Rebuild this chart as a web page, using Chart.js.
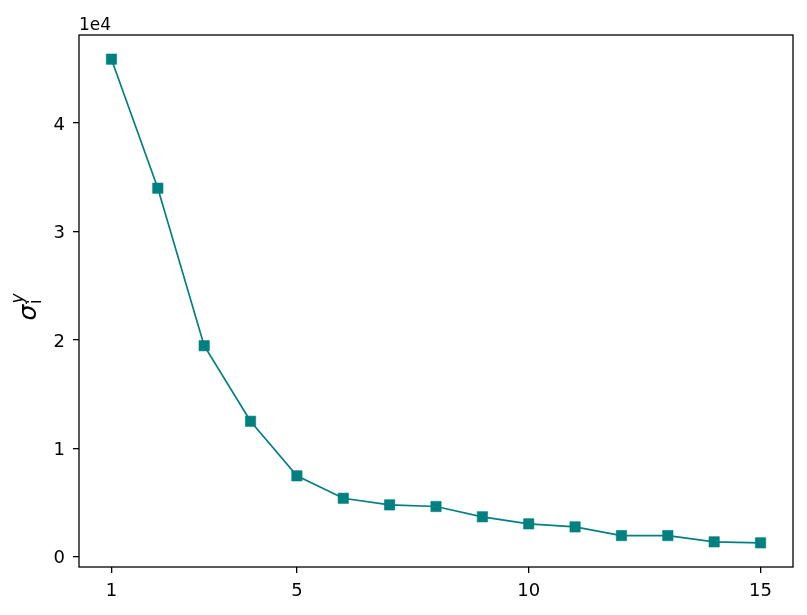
<!DOCTYPE html>
<html>
<head>
<meta charset="utf-8">
<script src="https://cdn.jsdelivr.net/npm/chart.js@4"></script>
<style>
html,body{margin:0;padding:0;background:#fff;}
#wrap{width:807px;height:615px;position:relative;}
</style>
</head>
<body>
<div id="wrap"><canvas id="c" width="807" height="615"></canvas></div>
<script>
const xValues = [1,2,3,4,5,6,7,8,9,10,11,12,13,14,15];
const yValues = [45900,34000,19470,12500,7470,5400,4790,4640,3690,3040,2760,1960,1960,1380,1290];
const xTicks = [1,5,10,15];
const yTicks = [0,10000,20000,30000,40000];
const yScaleExp = 4;
const offsetLabel = '1e4';

const color = '#008080';
const FONT = '"DejaVu Sans", sans-serif';

const frame = {
  id:'frame',
  afterDraw(chart){
    const {ctx, chartArea:a} = chart;
    ctx.save();
    ctx.strokeStyle = '#000';
    ctx.lineWidth = 1.3;
    ctx.strokeRect(a.left, a.top, a.right - a.left, a.bottom - a.top);
    ctx.fillStyle = '#000';
    ctx.font = '17px ' + FONT;
    ctx.textAlign = 'left';
    ctx.textBaseline = 'alphabetic';
    ctx.fillText(offsetLabel, a.left, a.top - 5);
    // y-axis title sigma_i^y
    const cy = (a.top + a.bottom) / 2 + 6;
    ctx.translate(36, cy);
    ctx.rotate(-Math.PI/2);
    ctx.font = 'italic 25px ' + FONT;
    const wS = ctx.measureText('σ').width;
    ctx.font = '17px ' + FONT;
    const wI = ctx.measureText('i').width;
    ctx.font = 'italic 17px ' + FONT;
    const wY = ctx.measureText('y').width;
    const total = wS + Math.max(wI, wY) + 1;
    let x0 = -total/2;
    ctx.font = 'italic 25px ' + FONT;
    ctx.fillText('σ', x0, 0);
    ctx.font = '17px ' + FONT;
    ctx.fillText('i', x0 + wS + 0.5, 5);
    ctx.font = 'italic 17px ' + FONT;
    ctx.fillText('y', x0 + wS + 1, -13);
    ctx.restore();
  }
};

new Chart(document.getElementById('c'), {
  type:'line',
  data:{
    datasets:[{
      data: xValues.map((x,i)=>({x:x, y:yValues[i]})),
      borderColor: color,
      backgroundColor: color,
      borderWidth: 1.7,
      pointStyle: 'rect',
      pointRadius: 7.3,
      pointBorderColor: 'rgba(0,128,128,0.6)',
      pointBorderWidth: 1,
      pointBackgroundColor: color,
      tension: 0
    }]
  },
  options:{
    responsive:false,
    animation:false,
    devicePixelRatio:1,
    layout:{padding:{left:0, top:35, right:14, bottom:0}},
    plugins:{legend:{display:false}, tooltip:{enabled:false}},
    scales:{
      x:{
        type:'linear',
        min:0.3, max:15.7,
        afterBuildTicks(s){ s.ticks = xTicks.map(v=>({value:v})); },
        afterFit(s){ s.height = 48; },
        grid:{drawOnChartArea:false, drawTicks:true, tickLength:6, color:'#000', lineWidth:1.3},
        border:{display:false},
        ticks:{color:'#000', font:{family:FONT, size:18}, padding:8, maxRotation:0, autoSkip:false}
      },
      y:{
        type:'linear',
        min:-940, max:48130,
        afterBuildTicks(s){ s.ticks = yTicks.map(v=>({value:v})); },
        afterFit(s){ s.width = 79; },
        grid:{drawOnChartArea:false, drawTicks:true, tickLength:6, color:'#000', lineWidth:1.3},
        border:{display:false},
        ticks:{color:'#000', font:{family:FONT, size:18}, padding:8, labelOffset:2,
          callback:(v)=>String(v/Math.pow(10,yScaleExp))}
      }
    }
  },
  plugins:[frame]
});
</script>
</body>
</html>
